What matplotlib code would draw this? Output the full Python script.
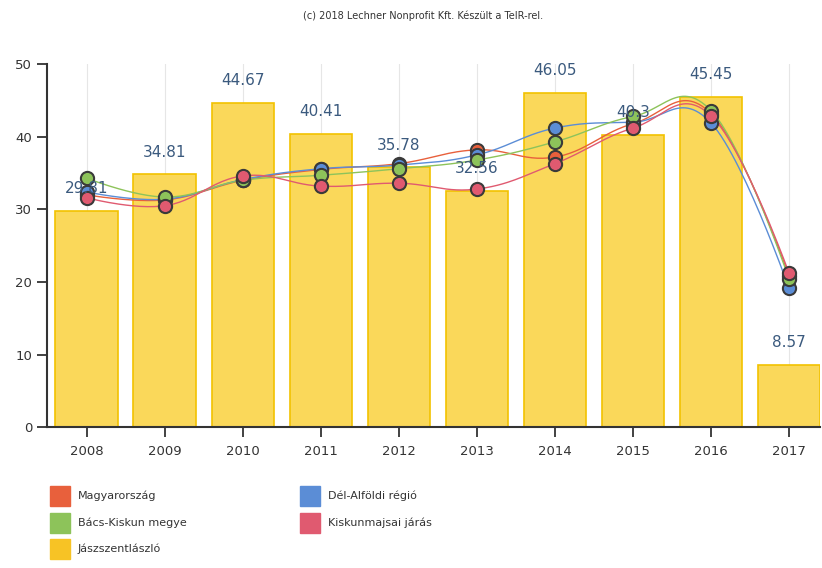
import numpy as np
import matplotlib
matplotlib.use("Agg")
import matplotlib.pyplot as plt
from matplotlib.patches import Rectangle

years = ["2008", "2009", "2010", "2011", "2012", "2013", "2014", "2015", "2016", "2017"]
jasz = [29.81, 34.81, 44.67, 40.41, 35.78, 32.56, 46.05, 40.3, 45.45, 8.57]
magyar = [32.0, 31.3, 34.0, 35.5, 36.3, 38.2, 37.2, 41.8, 43.2, 20.8]
delalf = [32.4, 31.4, 34.1, 35.6, 36.1, 37.5, 41.2, 42.0, 41.9, 19.1]
bacs = [34.3, 31.7, 34.0, 34.7, 35.6, 36.8, 39.3, 42.8, 43.6, 20.4]
kiskun = [31.6, 30.5, 34.6, 33.2, 33.6, 32.8, 36.3, 41.2, 42.9, 21.2]

c_mag = "#E8603C"
c_del = "#5B8DD6"
c_bacs = "#8DC35A"
c_kis = "#E05A70"
c_jasz = "#F7C325"


def spline(xs, ys, n=30, smooth=1.5):
    # Highcharts-like bezier spline for display
    xs = np.asarray(xs, float)
    ys = np.asarray(ys, float)
    px, py = [xs[0]], [ys[0]]
    m = len(xs)
    ctrl = []
    for i in range(m):
        if 0 < i < m - 1:
            lx = (smooth * xs[i] + xs[i - 1]) / (smooth + 1)
            ly = (smooth * ys[i] + ys[i - 1]) / (smooth + 1)
            rx = (smooth * xs[i] + xs[i + 1]) / (smooth + 1)
            ry = (smooth * ys[i] + ys[i + 1]) / (smooth + 1)
            if rx != lx:
                corr = ((ry - ly) * (rx - xs[i])) / (rx - lx) + ys[i] - ry
                ly += corr
                ry += corr
            ctrl.append(((lx, ly), (rx, ry)))
        else:
            ctrl.append(((xs[i], ys[i]), (xs[i], ys[i])))
    for i in range(m - 1):
        p0 = np.array([xs[i], ys[i]])
        p1 = np.array(ctrl[i][1])
        p2 = np.array(ctrl[i + 1][0])
        p3 = np.array([xs[i + 1], ys[i + 1]])
        t = np.linspace(0, 1, n)[1:, None]
        pts = ((1 - t) ** 3) * p0 + 3 * ((1 - t) ** 2) * t * p1 + 3 * (1 - t) * t ** 2 * p2 + t ** 3 * p3
        px.extend(pts[:, 0])
        py.extend(pts[:, 1])
    return np.array(px), np.array(py)


fig = plt.figure(figsize=(8.22, 5.68), dpi=100)
ax = fig.add_axes([0.057, 0.248, 0.94, 0.639])
x = np.arange(len(years))

for xi in x:
    ax.axvline(xi, color="#e6e6e6", lw=0.8, zorder=0)

ax.bar(x, jasz, width=0.8, color="#FAD85A", edgecolor="#F2C200", linewidth=1.2, zorder=1)
for xi, v in zip(x, jasz):
    ax.annotate(f"{v:g}", (xi, v), xytext=(0, 16), textcoords="offset points",
                ha="center", va="center", fontsize=11, color="#3b5a7e", zorder=5)

for vals, col in [(magyar, c_mag), (delalf, c_del), (bacs, c_bacs), (kiskun, c_kis)]:
    sx, sy = spline(x, vals)
    ax.plot(sx, sy, color=col, lw=1.0, zorder=3)
for vals, col in [(magyar, c_mag), (delalf, c_del), (bacs, c_bacs), (kiskun, c_kis)]:
    ax.plot(x, vals, ls="none", marker="o", ms=9.5, mfc=col, mec="#3a3a3a", mew=1.5, zorder=4)

ax.set_xlim(-0.51, 9.39)
ax.set_ylim(0, 50)
ax.set_yticks([0, 10, 20, 30, 40, 50])
ax.set_xticks(x)
ax.set_xticklabels(years)
for s in ["top", "right"]:
    ax.spines[s].set_visible(False)
for s in ["left", "bottom"]:
    ax.spines[s].set_color("#333333")
    ax.spines[s].set_linewidth(1.5)
ax.tick_params(axis="both", direction="out", length=7, width=1.3, color="#333333",
               labelcolor="#333333", labelsize=9.5)
ax.tick_params(axis="x", pad=6)

fig.text(0.515, 0.972, "(c) 2018 Lechner Nonprofit Kft. Készült a TeIR-rel.",
         ha="center", va="center", fontsize=7, color="#333333")

legend_items = [
    ("Magyarország", c_mag, 50, 496),
    ("Dél-Alföldi régió", c_del, 300, 496),
    ("Bács-Kiskun megye", c_bacs, 50, 523),
    ("Kiskunmajsai járás", c_kis, 300, 523),
    ("Jászszentlászló", c_jasz, 50, 549),
]
W, H = 822, 568
for label, col, px, py in legend_items:
    fig.patches.append(Rectangle((px / W, 1 - (py + 10) / H), 20 / W, 20 / H,
                                 transform=fig.transFigure, color=col, figure=fig))
    fig.text((px + 28) / W, 1 - py / H, label, ha="left", va="center",
             fontsize=8, color="#333333")

fig.savefig("out.png", dpi=100)
